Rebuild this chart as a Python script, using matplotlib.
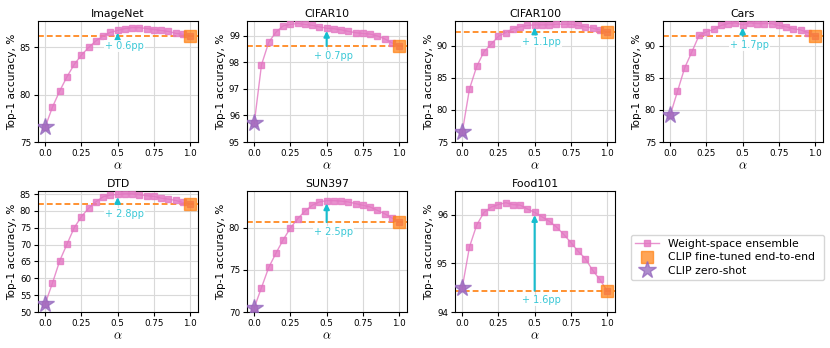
import matplotlib
matplotlib.use("Agg")
import matplotlib.pyplot as plt
from matplotlib.lines import Line2D

plt.rcParams['mathtext.fontset'] = 'cm'
plt.rcParams['font.family'] = ['DejaVu Sans']

alphas = [0.0, 0.05, 0.1, 0.15, 0.2, 0.25, 0.3, 0.35, 0.4, 0.45, 0.5,
          0.55, 0.6, 0.65, 0.7, 0.75, 0.8, 0.85, 0.9, 0.95, 1.0]

datasets = ["ImageNet", "CIFAR10", "CIFAR100", "Cars", "DTD", "SUN397", "Food101"]

imagenet = [76.6, 78.7, 80.4, 81.9, 83.2, 84.2, 85.0, 85.7, 86.2, 86.6, 86.8,
            87.0, 87.1, 87.1, 87.0, 86.9, 86.8, 86.7, 86.5, 86.4, 86.2]
cifar10 = [95.7, 97.9, 98.75, 99.13, 99.37, 99.42, 99.46, 99.42, 99.39, 99.33, 99.28,
           99.26, 99.22, 99.16, 99.11, 99.08, 99.06, 98.99, 98.88, 98.73, 98.61]
cifar100 = [76.5, 83.3, 86.8, 89.1, 90.3, 91.5, 92.1, 92.7, 93.0, 93.2, 93.3,
            93.3, 93.3, 93.4, 93.4, 93.4, 93.2, 93.0, 92.8, 92.5, 92.2]
cars = [79.2, 82.9, 86.6, 89.1, 91.7, 92.2, 92.6, 93.2, 93.5, 93.6, 93.3,
        93.6, 93.5, 93.5, 93.5, 93.2, 93.0, 92.7, 92.5, 92.1, 91.6]
dtd = [52.5, 58.6, 65.2, 70.1, 75.0, 78.3, 80.8, 82.7, 84.2, 84.7, 84.9,
       85.1, 85.1, 84.8, 84.5, 84.3, 83.8, 83.5, 83.1, 82.5, 82.0]
sun397 = [70.5, 72.9, 75.3, 77.0, 78.6, 80.0, 81.1, 82.0, 82.7, 83.1, 83.25,
          83.25, 83.2, 83.1, 82.9, 82.7, 82.5, 82.1, 81.7, 81.2, 80.7]
food101 = [94.5, 95.34, 95.79, 96.05, 96.16, 96.21, 96.25, 96.21, 96.2, 96.12, 96.05,
           95.96, 95.87, 95.75, 95.6, 95.43, 95.25, 95.1, 94.86, 94.67, 94.44]

ensembles = [imagenet, cifar10, cifar100, cars, dtd, sun397, food101]
zeroshot = [76.6, 95.7, 76.5, 79.2, 52.5, 70.5, 94.5]
finetuned = [86.2, 98.61, 92.2, 91.6, 82.0, 80.7, 94.44]
gains = ["0.6", "0.7", "1.1", "1.7", "2.8", "2.5", "1.6"]
ylims = [(75, 87.8), (95, 99.55), (75, 93.9), (75, 93.9), (50, 85.9), (70, 84.4), (94, 96.49)]
yticks = [[75, 80, 85], [95, 96, 97, 98, 99], [75, 80, 85, 90], [75, 80, 85, 90],
          [50, 55, 60, 65, 70, 75, 80, 85], [70, 75, 80], [94, 95, 96]]
xticks = [0.0, 0.25, 0.5, 0.75, 1.0]
xticklabels = ["0.0", "0.25", "0.5", "0.75", "1.0"]

PINK = '#e377c2'
ORANGE = '#ff7f0e'
PURPLE = '#9467bd'
CYAN = '#17becf'

W, H = 830, 348
fig = plt.figure(figsize=(8.3, 3.48), dpi=100)

lefts = [38, 247, 455, 663]
tops = [21, 191]
aw, ah = 160, 121

for i, name in enumerate(datasets):
    r, c = divmod(i, 4)
    l = lefts[c]
    t = tops[r]
    ax = fig.add_axes([l / W, 1 - (t + ah) / H, aw / W, ah / H])
    ens = ensembles[i]
    ax.grid(True, color='#d9d9d9', lw=0.8, zorder=0)
    ax.set_axisbelow(True)
    ax.axhline(finetuned[i], color=ORANGE, ls='--', lw=1.2, dashes=(3.5, 1.8), zorder=2)
    ax.plot(alphas, ens, color=PINK, marker='s', markersize=4, lw=1.0,
            alpha=0.8, zorder=3)
    ax.plot([alphas[-1]], [finetuned[i]], marker='s', markersize=9,
            color=ORANGE, alpha=0.7, ls='none', zorder=4)
    ax.plot([alphas[0]], [zeroshot[i]], marker='*', markersize=13,
            color=PURPLE, alpha=0.75, ls='none', zorder=5)
    mid = ens[alphas.index(0.5)]
    ax.annotate('', xy=(0.5, mid), xytext=(0.5, finetuned[i]),
                arrowprops=dict(arrowstyle='-|>', color=CYAN, lw=1.5,
                                mutation_scale=8, shrinkA=0, shrinkB=2),
                zorder=6)
    ax.annotate('+ ' + gains[i] + 'pp', xy=(0.5, finetuned[i]),
                xytext=(5, -7), textcoords='offset points',
                ha='center', va='center', color=CYAN, alpha=0.85, fontsize=7,
                bbox=dict(facecolor='white', edgecolor='none', pad=0.5, alpha=0.9),
                zorder=6)
    ax.set_xlim(-0.05, 1.055)
    ax.set_ylim(*ylims[i])
    ax.set_xticks(xticks)
    ax.set_xticklabels(xticklabels)
    ax.set_yticks(yticks[i])
    ax.tick_params(labelsize=6.3, length=3, pad=2)
    ax.set_title(name, fontsize=7.8, pad=3)
    ax.set_ylabel('Top-1 accuracy, %', fontsize=7.6, labelpad=2)
    ax.set_xlabel(r'$\alpha$', fontsize=9, labelpad=1)

handles = [
    Line2D([], [], color=PINK, marker='s', markersize=4, lw=1.0, alpha=0.8),
    Line2D([], [], color=ORANGE, marker='s', markersize=9, ls='none', alpha=0.7),
    Line2D([], [], color=PURPLE, marker='*', markersize=13, ls='none', alpha=0.75),
]
labels = ['Weight-space ensemble', 'CLIP fine-tuned end-to-end', 'CLIP zero-shot']
fig.legend(handles, labels, loc='lower left',
           bbox_to_anchor=(631 / W, 1 - 280 / H, (824 - 631) / W, (280 - 222) / H),
           mode='expand', fontsize=7.8, frameon=True, borderaxespad=0,
           handlelength=2.2, labelspacing=0.3)

fig.savefig('out.png', dpi=100)
